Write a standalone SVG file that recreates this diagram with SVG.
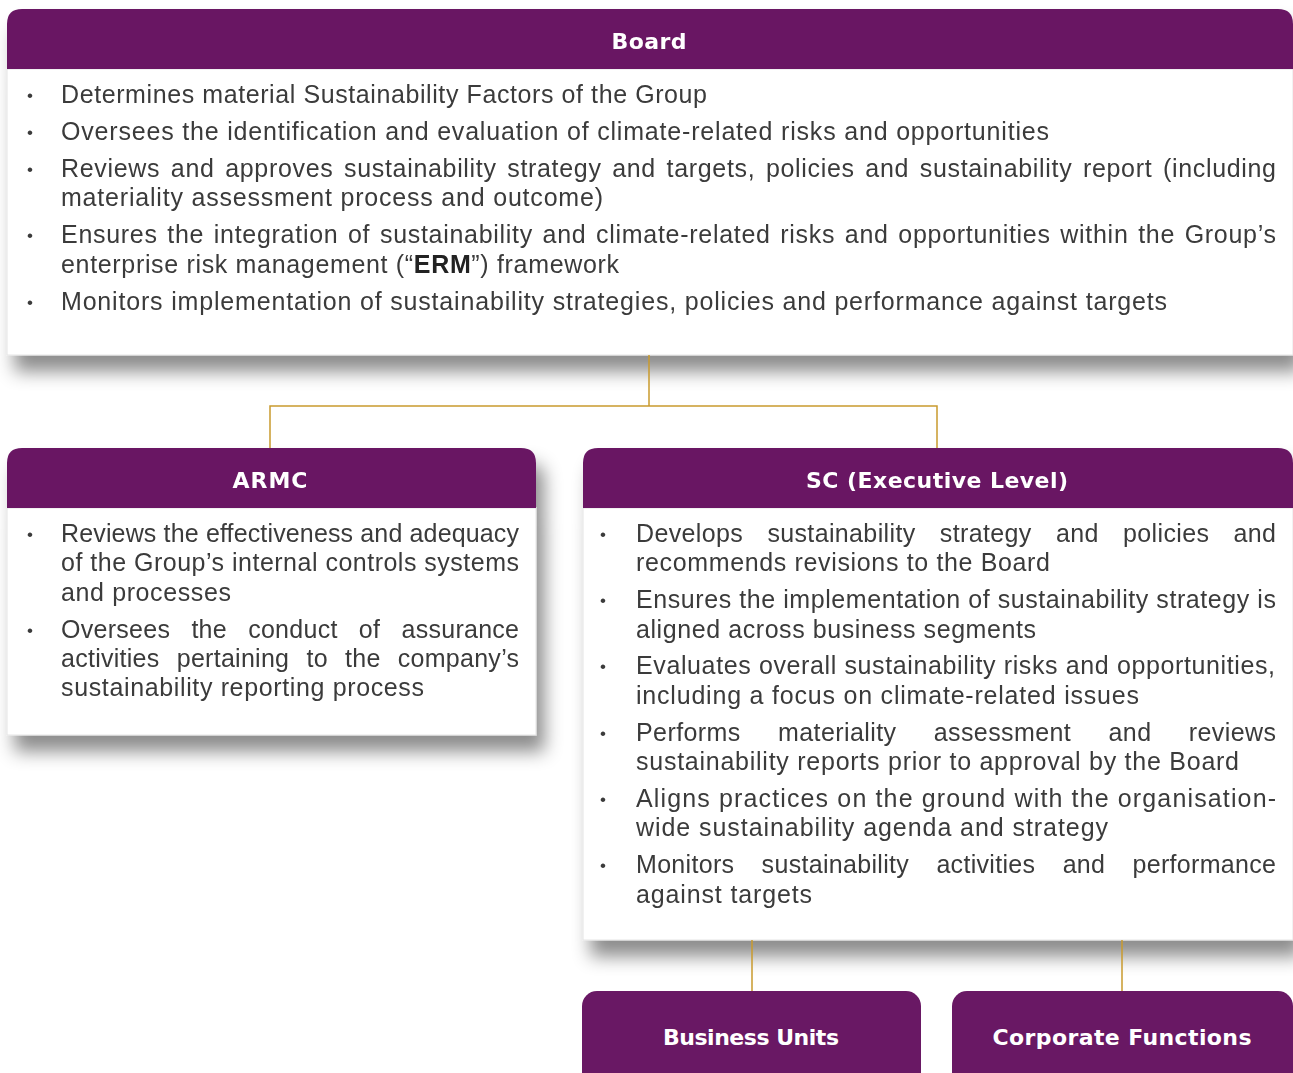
<svg xmlns="http://www.w3.org/2000/svg" width="1293" height="1073" viewBox="0 0 1293 1073">
<defs>
<filter id="sh" x="-5%" y="-5%" width="115%" height="135%">
<feDropShadow dx="8" dy="16" stdDeviation="9" flood-color="#000" flood-opacity="0.45"/>
</filter>
<style>
.hd{fill:#691864}
.bd{fill:#fff;stroke:#e4e4e4;stroke-width:1}
.ht{font-family:"DejaVu Sans","Liberation Sans",sans-serif;font-weight:bold;font-size:22px;fill:#fff;text-anchor:middle}
.t{font-family:"Liberation Sans","DejaVu Sans",sans-serif;font-size:25px;fill:#3a3a3a}
.b{font-family:"Liberation Sans",sans-serif;font-size:17px;fill:#3a3a3a;text-anchor:middle}
.c{fill:none;stroke:#c99a2e;stroke-width:1.5}
</style>
</defs>
<rect width="1293" height="1073" fill="#fff"/>

<g id="board" filter="url(#sh)">
<rect class="bd" x="7" y="69" width="1286" height="286"/>
<path class="hd" d="M7,69 V24 Q7,9 22,9 H1278 Q1293,9 1293,24 V69 Z"/>
<text class="ht" x="649" y="49" textLength="75">Board</text>
<text class="b" x="30" y="101">•</text>
<text class="t" x="61" y="103" textLength="646">Determines material Sustainability Factors of the Group</text>
<text class="b" x="30" y="138">•</text>
<text class="t" x="61" y="140" textLength="988">Oversees the identification and evaluation of climate-related risks and opportunities</text>
<text class="b" x="30" y="175">•</text>
<text class="t" x="61" y="177" textLength="1215" word-spacing="3">Reviews and approves sustainability strategy and targets, policies and sustainability report (including</text>
<text class="t" x="61" y="206" textLength="542">materiality assessment process and outcome)</text>
<text class="b" x="30" y="241">•</text>
<text class="t" x="61" y="243" textLength="1215" word-spacing="2">Ensures the integration of sustainability and climate-related risks and opportunities within the Group’s</text>
<text class="t" x="61" y="273" textLength="558">enterprise risk management (“<tspan font-weight="bold" fill="#222">ERM</tspan>”) framework</text>
<text class="b" x="30" y="308">•</text>
<text class="t" x="61" y="310" textLength="1106">Monitors implementation of sustainability strategies, policies and performance against targets</text>
</g>

<g id="armc" filter="url(#sh)">
<rect class="bd" x="7" y="508" width="529" height="227"/>
<path class="hd" d="M7,508 V463 Q7,448 22,448 H521 Q536,448 536,463 V508 Z"/>
<text class="ht" x="270" y="488" textLength="75">ARMC</text>
<text class="b" x="30" y="540">•</text>
<text class="t" x="61" y="542" textLength="458">Reviews the effectiveness and adequacy</text>
<text class="t" x="61" y="571" textLength="458">of the Group’s internal controls systems</text>
<text class="t" x="61" y="601" textLength="170">and processes</text>
<text class="b" x="30" y="636">•</text>
<text class="t" x="61" y="638" textLength="458" word-spacing="14">Oversees the conduct of assurance</text>
<text class="t" x="61" y="667" textLength="458" word-spacing="10">activities pertaining to the company’s</text>
<text class="t" x="61" y="696" textLength="363">sustainability reporting process</text>
</g>

<g id="sc" filter="url(#sh)">
<rect class="bd" x="583" y="508" width="710" height="432"/>
<path class="hd" d="M583,508 V463 Q583,448 598,448 H1278 Q1293,448 1293,463 V508 Z"/>
<text class="ht" x="937" y="488" textLength="262">SC (Executive Level)</text>
<text class="b" x="603" y="540">•</text>
<text class="t" x="636" y="542" textLength="640" word-spacing="17">Develops sustainability strategy and policies and</text>
<text class="t" x="636" y="571" textLength="414">recommends revisions to the Board</text>
<text class="b" x="603" y="606">•</text>
<text class="t" x="636" y="608" textLength="640">Ensures the implementation of sustainability strategy is</text>
<text class="t" x="636" y="638" textLength="400">aligned across business segments</text>
<text class="b" x="603" y="672">•</text>
<text class="t" x="636" y="674" textLength="639">Evaluates overall sustainability risks and opportunities,</text>
<text class="t" x="636" y="704" textLength="503">including a focus on climate-related issues</text>
<text class="b" x="603" y="739">•</text>
<text class="t" x="636" y="741" textLength="640" word-spacing="30">Performs materiality assessment and reviews</text>
<text class="t" x="636" y="770" textLength="603">sustainability reports prior to approval by the Board</text>
<text class="b" x="603" y="805">•</text>
<text class="t" x="636" y="807" textLength="640">Aligns practices on the ground with the organisation-</text>
<text class="t" x="636" y="836" textLength="472">wide sustainability agenda and strategy</text>
<text class="b" x="603" y="871">•</text>
<text class="t" x="636" y="873" textLength="640" word-spacing="20">Monitors sustainability activities and performance</text>
<text class="t" x="636" y="903" textLength="176">against targets</text>
</g>

<g id="business-units">
<rect class="hd" x="582" y="991" width="339" height="110" rx="15"/>
<text class="ht" x="751" y="1045" textLength="176">Business Units</text>
</g>

<g id="corporate-functions">
<rect class="hd" x="952" y="991" width="341" height="110" rx="15"/>
<text class="ht" x="1122" y="1045" textLength="259">Corporate Functions</text>
</g>

<g id="connectors">
<path class="c" d="M649,355 V406 M270,448 V406 H937 V448"/>
<path class="c" d="M752,940 V991 M1122,940 V991"/>
</g>
</svg>
